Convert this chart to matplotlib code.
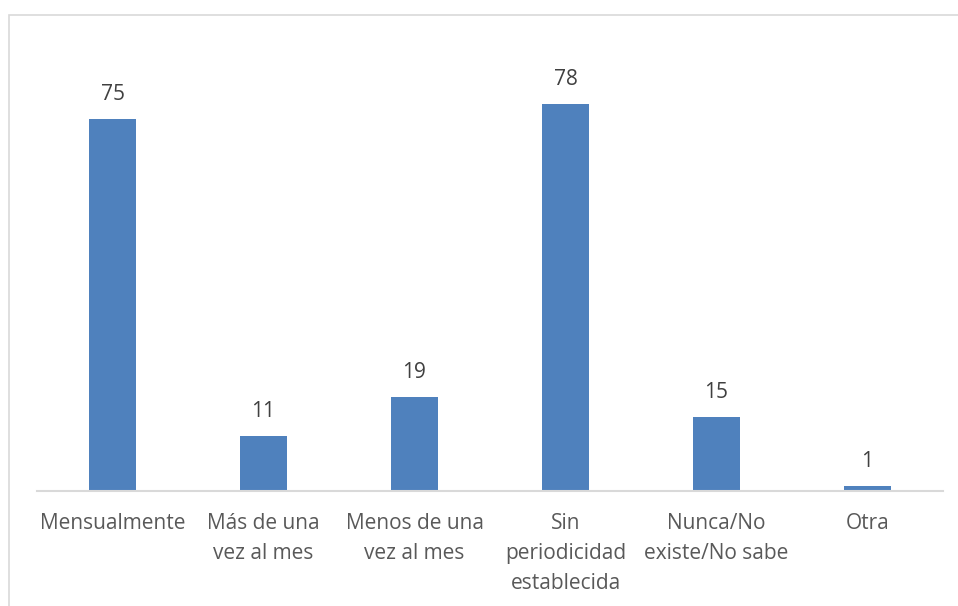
import matplotlib.pyplot as plt
from matplotlib.patches import Rectangle

categories = ["Mensualmente", "Más de una\nvez al mes", "Menos de una\nvez al mes",
              "Sin\nperiodicidad\nestablecida", "Nunca/No\nexiste/No sabe", "Otra"]
values = [75, 11, 19, 78, 15, 1]

plt.rcParams['font.family'] = ['Open Sans', 'DejaVu Sans']
text_color = '#595959'

fig = plt.figure(figsize=(9.58, 6.06), dpi=100)
ax = fig.add_axes([37 / 958, 115 / 606, 906 / 958, 447 / 606])

x = range(len(categories))
bars = ax.bar(x, values, width=0.31, color='#4F81BD')
ax.set_xlim(-0.5, len(categories) - 0.5)
ax.set_ylim(0, 90)

for b, v in zip(bars, values):
    ax.annotate(str(v), (b.get_x() + b.get_width() / 2, v), xytext=(0, 10),
                textcoords='offset points', ha='center', va='bottom',
                fontsize=15, color='#404040')

ax.set_xticks(list(x))
ax.set_xticklabels(categories, fontsize=15, color=text_color, linespacing=1.55)
ax.tick_params(axis='x', length=0, pad=16)
ax.set_yticks([])
for s in ['top', 'left', 'right']:
    ax.spines[s].set_visible(False)
ax.spines['bottom'].set_color('#d9d9d9')
ax.spines['bottom'].set_linewidth(1.5)

# chart border (cut off at right and bottom)
fig.patches.append(Rectangle((8.5 / 958, -0.1), 1.1, (606 - 15.5) / 606 + 0.1,
                             transform=fig.transFigure, fill=False,
                             edgecolor='#d9d9d9', linewidth=1.2))

fig.savefig('out.png', dpi=100)
